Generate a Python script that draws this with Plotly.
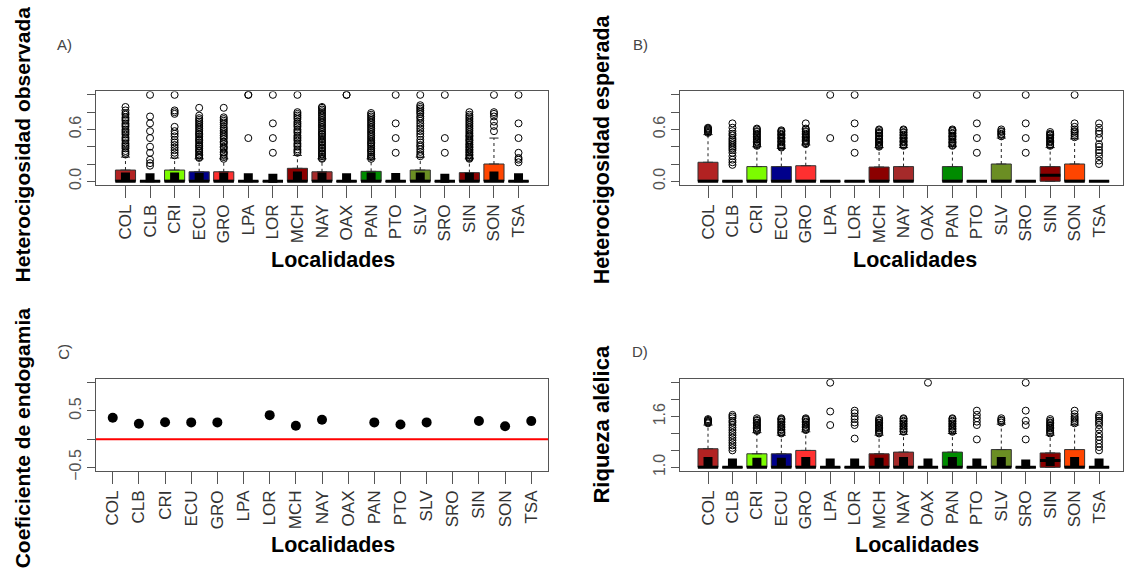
import plotly.graph_objects as go

W, H = 1128, 579

categories = ["COL", "CLB", "CRI", "ECU", "GRO", "LPA", "LOR", "MCH", "NAY",
              "OAX", "PAN", "PTO", "SLV", "SRO", "SIN", "SON", "TSA"]
box_colors = ["#B22222", "#FFFFFF", "#7CFC00", "#00008B", "#FF3030", "#FFFFFF",
              "#FFFFFF", "#8B0000", "#A52A2A", "#FFFFFF", "#008B00", "#FFFFFF",
              "#6B8E23", "#FFFFFF", "#8B0000", "#FF4500", "#FFFFFF"]

# ---------------- A) Heterocigosidad observada ----------------
ho_q1 = [0, 0, 0, 0, 0, 0, 0, 0, 0, 0, 0, 0, 0, 0, 0, 0, 0]
ho_med = [0, 0, 0, 0, 0, 0, 0, 0, 0, 0, 0, 0, 0, 0, 0, 0, 0]
ho_q3 = [0.13, 0, 0.13, 0.11, 0.11, 0, 0, 0.15, 0.11, 0, 0.115, 0, 0.13, 0, 0.10, 0.20, 0]
ho_whisk = [0.28, 0, 0.27, 0.26, 0.26, 0, 0, 0.30, 0.26, 0, 0.26, 0, 0.28, 0, 0.26, 0.50, 0]
ho_mean = [0.05, 0.04, 0.05, 0.045, 0.05, 0.04, 0.035, 0.06, 0.05, 0.04, 0.05,
           0.045, 0.05, 0.035, 0.045, 0.06, 0.04]
ho_out = {
    "COL": [0.31, 0.33, 0.35, 0.38, 0.40, 0.42, 0.44, 0.47, 0.49, 0.51, 0.54, 0.56, 0.58,
            0.60, 0.63, 0.65, 0.67, 0.70, 0.72, 0.74, 0.77, 0.79, 0.82, 0.86],
    "CLB": [0.18, 0.21, 0.25, 0.33, 0.40, 0.50, 0.58, 0.67, 0.75, 1.0],
    "CRI": [0.30, 0.33, 0.36, 0.39, 0.42, 0.45, 0.48, 0.52, 0.55, 0.58, 0.63, 0.78, 0.80, 0.82, 1.0],
    "ECU": [0.27, 0.28, 0.30, 0.31, 0.33, 0.35, 0.36, 0.38, 0.40, 0.41, 0.43, 0.45, 0.47,
            0.48, 0.50, 0.52, 0.54, 0.55, 0.57, 0.59, 0.61, 0.63, 0.65, 0.67, 0.69, 0.71,
            0.73, 0.76, 0.85],
    "GRO": [0.26, 0.28, 0.31, 0.33, 0.34, 0.37, 0.39, 0.40, 0.43, 0.45, 0.46, 0.49, 0.51,
            0.53, 0.55, 0.57, 0.59, 0.61, 0.63, 0.66, 0.68, 0.70, 0.72, 0.74, 0.85],
    "LPA": [0.50, 1.0, 1.0],
    "LOR": [0.33, 0.50, 0.67, 1.0],
    "MCH": [0.33, 0.35, 0.37, 0.40, 0.42, 0.44, 0.47, 0.49, 0.51, 0.53, 0.56, 0.58, 0.60,
            0.63, 0.65, 0.67, 0.69, 0.72, 0.74, 0.76, 0.78, 0.80, 1.0],
    "NAY": [0.26, 0.27, 0.29, 0.31, 0.32, 0.34, 0.36, 0.38, 0.39, 0.41, 0.43, 0.45, 0.46,
            0.48, 0.50, 0.52, 0.54, 0.55, 0.57, 0.59, 0.61, 0.63, 0.65, 0.67, 0.69, 0.71,
            0.73, 0.75, 0.77, 0.79, 0.81, 0.83, 0.85, 0.86],
    "OAX": [1.0, 1.0],
    "PAN": [0.26, 0.28, 0.29, 0.31, 0.33, 0.35, 0.36, 0.38, 0.40, 0.42, 0.44, 0.45, 0.47,
            0.49, 0.51, 0.53, 0.55, 0.57, 0.59, 0.61, 0.63, 0.65, 0.67, 0.69, 0.71, 0.73,
            0.75, 0.77, 0.79],
    "PTO": [0.33, 0.50, 0.67, 1.0],
    "SLV": [0.29, 0.31, 0.34, 0.37, 0.40, 0.42, 0.45, 0.48, 0.52, 0.55, 0.58, 0.61, 0.64,
            0.67, 0.70, 0.73, 0.75, 0.78, 0.80, 0.82, 0.84, 0.86, 0.88, 1.0],
    "SRO": [0.33, 0.50, 1.0],
    "SIN": [0.26, 0.27, 0.28, 0.30, 0.31, 0.33, 0.34, 0.36, 0.37, 0.39, 0.40, 0.42, 0.43,
            0.45, 0.47, 0.48, 0.50, 0.52, 0.53, 0.55, 0.57, 0.59, 0.61, 0.63, 0.65, 0.67,
            0.69, 0.71, 0.73, 0.75, 0.77, 0.80],
    "SON": [0.58, 0.64, 0.69, 0.75, 0.78, 0.80, 1.0],
    "TSA": [0.22, 0.25, 0.27, 0.33, 0.50, 0.67, 1.0],
}

# ---------------- B) Heterocigosidad esperada ----------------
he_q1 = [0, 0, 0, 0, 0, 0, 0, 0, 0, None, 0, 0, 0, 0, 0, 0, 0]
he_med = [0, 0, 0, 0, 0, 0, 0, 0, 0, None, 0, 0, 0, 0, 0.07, 0, 0]
he_q3 = [0.22, 0, 0.17, 0.17, 0.18, 0, 0, 0.165, 0.17, None, 0.17, 0, 0.20, 0, 0.17, 0.20, 0]
he_whisk = [0.54, 0, 0.40, 0.38, 0.42, 0, 0, 0.39, 0.39, None, 0.40, 0, 0.50, 0, 0.39, 0.49, 0]
he_out = {
    "COL": [0.56, 0.57, 0.58, 0.59, 0.60, 0.61, 0.62],
    "CLB": [0.19, 0.22, 0.25, 0.29, 0.33, 0.36, 0.38, 0.40, 0.42, 0.44, 0.46, 0.48, 0.50,
            0.53, 0.55, 0.58, 0.62, 0.67],
    "CRI": [0.41, 0.42, 0.43, 0.45, 0.46, 0.48, 0.49, 0.51, 0.52, 0.54, 0.55, 0.57, 0.58, 0.60, 0.61],
    "ECU": [0.39, 0.40, 0.41, 0.42, 0.43, 0.45, 0.46, 0.47, 0.49, 0.50, 0.51, 0.53, 0.54,
            0.55, 0.57, 0.58, 0.59],
    "GRO": [0.43, 0.44, 0.46, 0.47, 0.48, 0.50, 0.51, 0.52, 0.54, 0.55, 0.57, 0.58, 0.60, 0.61, 0.67],
    "LPA": [0.50, 1.0],
    "LOR": [0.33, 0.50, 0.67, 1.0],
    "MCH": [0.40, 0.41, 0.42, 0.44, 0.45, 0.46, 0.48, 0.49, 0.50, 0.52, 0.53, 0.55, 0.56,
            0.57, 0.59, 0.60],
    "NAY": [0.41, 0.42, 0.43, 0.45, 0.46, 0.47, 0.49, 0.50, 0.51, 0.53, 0.54, 0.56, 0.57, 0.59, 0.60],
    "OAX": [],
    "PAN": [0.41, 0.42, 0.44, 0.45, 0.46, 0.48, 0.49, 0.51, 0.52, 0.53, 0.55, 0.56, 0.58, 0.59, 0.60],
    "PTO": [0.33, 0.50, 0.67, 1.0],
    "SLV": [0.52, 0.54, 0.55, 0.57, 0.58, 0.60],
    "SRO": [0.33, 0.50, 0.67, 1.0],
    "SIN": [0.41, 0.42, 0.43, 0.45, 0.46, 0.47, 0.49, 0.50, 0.51, 0.53, 0.54, 0.55, 0.57],
    "SON": [0.51, 0.53, 0.55, 0.57, 0.58, 0.60, 0.63, 0.67, 1.0],
    "TSA": [0.20, 0.24, 0.29, 0.33, 0.36, 0.40, 0.43, 0.50, 0.55, 0.58, 0.62, 0.67],
}

# ---------------- C) Coeficiente de endogamia ----------------
fis_val = [0.378, 0.273, 0.30, 0.297, 0.297, None, 0.425, 0.238, 0.343, None,
           0.297, 0.26, 0.297, None, 0.32, 0.227, 0.32]
fis_err = [0.02, 0.05, 0.03, 0.02, 0.02, None, 0.05, 0.025, 0.025, None,
           0.02, 0.05, 0.025, None, 0.02, 0.025, 0.06]

# ---------------- D) Riqueza alélica ----------------
ar_q1 = [1.0, 1.0, 1.0, 1.0, 1.0, 1.0, 1.0, 1.0, 1.0, 1.0, 1.0, 1.0, 1.0, 1.0, 1.0, 1.0, 1.0]
ar_med = [1.0, 1.0, 1.0, 1.0, 1.0, 1.0, 1.0, 1.0, 1.0, 1.0, 1.0, 1.0, 1.0, 1.0, 1.08, 1.0, 1.0]
ar_q3 = [1.22, 1.0, 1.16, 1.16, 1.20, 1.0, 1.0, 1.16, 1.18, 1.0, 1.18, 1.0, 1.21, 1.0, 1.17, 1.21, 1.0]
ar_whisk = [1.50, 1.0, 1.41, 1.38, 1.42, 1.0, 1.0, 1.38, 1.39, 1.0, 1.40, 1.0, 1.51, 1.0, 1.38, 1.50, 1.0]
ar_mean = [1.07, 1.05, 1.06, 1.06, 1.07, 1.05, 1.05, 1.06, 1.07, 1.05, 1.07, 1.05,
           1.07, 1.04, 1.07, 1.07, 1.05]
ar_out = {
    "COL": [1.52, 1.53, 1.54, 1.55, 1.56, 1.57],
    "CLB": [1.20, 1.23, 1.26, 1.29, 1.32, 1.35, 1.38, 1.41, 1.44, 1.47, 1.50, 1.53, 1.55, 1.58, 1.60, 1.62],
    "CRI": [1.43, 1.44, 1.46, 1.47, 1.49, 1.50, 1.52, 1.53, 1.55, 1.56, 1.58],
    "ECU": [1.40, 1.41, 1.42, 1.44, 1.45, 1.47, 1.48, 1.50, 1.51, 1.53, 1.54, 1.56, 1.57, 1.58],
    "GRO": [1.44, 1.45, 1.47, 1.48, 1.50, 1.51, 1.53, 1.54, 1.56, 1.57, 1.58],
    "LPA": [1.50, 1.66, 2.0],
    "LOR": [1.34, 1.50, 1.53, 1.57, 1.60, 1.64, 1.67],
    "MCH": [1.40, 1.41, 1.43, 1.44, 1.46, 1.47, 1.49, 1.50, 1.52, 1.53, 1.55, 1.56, 1.58],
    "NAY": [1.42, 1.43, 1.45, 1.46, 1.48, 1.49, 1.51, 1.52, 1.54, 1.55, 1.57, 1.58],
    "OAX": [2.0],
    "PAN": [1.42, 1.43, 1.45, 1.46, 1.48, 1.49, 1.51, 1.52, 1.54, 1.55, 1.57, 1.58],
    "PTO": [1.33, 1.50, 1.54, 1.58, 1.62, 1.67],
    "SLV": [1.53, 1.55, 1.56, 1.58],
    "SRO": [1.33, 1.50, 1.55, 1.67, 2.0],
    "SIN": [1.40, 1.41, 1.43, 1.44, 1.46, 1.47, 1.49, 1.50, 1.52, 1.53, 1.55, 1.57],
    "SON": [1.52, 1.54, 1.56, 1.58, 1.60, 1.63, 1.67],
    "TSA": [1.20, 1.24, 1.28, 1.32, 1.36, 1.40, 1.45, 1.50, 1.53, 1.55, 1.58, 1.60, 1.62],
}

FONT = "Liberation Sans, Arial, sans-serif"
pos = list(range(1, len(categories) + 1))
fig = go.Figure()

# plotly's "line-ew" symbol is 1.4 x size wide
MED_SIZE = 14.5
CAP_SIZE = 6.5


def add_boxpanel(xa, ya, q1, med, q3, whisk, outl, means=None):
    for i, c in enumerate(categories):
        if q1[i] is None:
            continue
        fig.add_trace(go.Box(
            x=[pos[i]], q1=[q1[i]], median=[med[i]], q3=[q3[i]],
            lowerfence=[q1[i]], upperfence=[q3[i]],
            fillcolor=box_colors[i], line=dict(color="#333333", width=1),
            width=0.82, boxpoints=False, showlegend=False, hoverinfo="skip",
            xaxis=xa, yaxis=ya))
    # dashed whiskers
    wx, wy, cx, cy = [], [], [], []
    for i in range(len(categories)):
        if q3[i] is None or whisk[i] is None or whisk[i] <= q3[i]:
            continue
        wx += [pos[i], pos[i], None]
        wy += [q3[i], whisk[i], None]
        cx.append(pos[i])
        cy.append(whisk[i])
    fig.add_trace(go.Scatter(x=wx, y=wy, mode="lines",
                             line=dict(color="#222", width=1, dash="3px,3px"),
                             showlegend=False, hoverinfo="skip", xaxis=xa, yaxis=ya))
    fig.add_trace(go.Scatter(x=cx, y=cy, mode="markers",
                             marker=dict(symbol="line-ew", size=CAP_SIZE, color="#222",
                                         line=dict(color="#222", width=1)),
                             showlegend=False, hoverinfo="skip", xaxis=xa, yaxis=ya))
    # medians (thick black line)
    mx = [pos[i] for i in range(len(categories)) if med[i] is not None]
    my = [med[i] for i in range(len(categories)) if med[i] is not None]
    fig.add_trace(go.Scatter(x=mx, y=my, mode="markers",
                             marker=dict(symbol="line-ew", size=MED_SIZE, color="black",
                                         line=dict(color="black", width=3)),
                             showlegend=False, hoverinfo="skip", xaxis=xa, yaxis=ya))
    # means (black squares)
    if means is not None:
        fig.add_trace(go.Scatter(x=pos, y=means, mode="markers",
                                 marker=dict(symbol="square", size=9, color="black"),
                                 showlegend=False, hoverinfo="skip", xaxis=xa, yaxis=ya))
    # outliers
    ox, oy = [], []
    for i, c in enumerate(categories):
        for v in outl[c]:
            ox.append(pos[i])
            oy.append(v)
    fig.add_trace(go.Scatter(x=ox, y=oy, mode="markers",
                             marker=dict(symbol="circle-open", size=7, color="black",
                                         line=dict(color="black", width=1)),
                             showlegend=False, hoverinfo="skip", xaxis=xa, yaxis=ya))


add_boxpanel("x", "y", ho_q1, ho_med, ho_q3, ho_whisk, ho_out, ho_mean)
add_boxpanel("x2", "y2", he_q1, he_med, he_q3, he_whisk, he_out, None)
add_boxpanel("x4", "y4", ar_q1, ar_med, ar_q3, ar_whisk, ar_out, ar_mean)

# Panel C points with error bars
fig.add_trace(go.Scatter(x=pos, y=fis_val, mode="markers",
                         marker=dict(symbol="circle", size=10, color="black"),
                         error_y=dict(type="data", array=fis_err, visible=True,
                                      color="black", thickness=1.5, width=3),
                         showlegend=False, hoverinfo="skip", xaxis="x3", yaxis="y3"))


def px_x(p):
    return p / W


def px_y(p):
    return 1 - p / H


def xax(domain, rng):
    return dict(domain=domain, range=rng, tickmode="array", tickvals=pos,
                ticktext=categories, tickangle=-90, ticks="outside", ticklen=12,
                tickcolor="#555", tickwidth=1,
                tickfont=dict(family=FONT, size=17, color="#333"),
                showline=True, mirror=True, linecolor="#555", linewidth=1,
                showgrid=False, zeroline=False, fixedrange=True)


def yax(domain, rng, tv, tt, anchor):
    return dict(domain=domain, range=rng, tickmode="array", tickvals=tv, ticktext=tt,
                tickangle=-90, ticks="outside", ticklen=8, tickcolor="#555",
                tickfont=dict(family=FONT, size=16, color="#555"),
                showline=True, mirror=True, linecolor="#555", linewidth=1,
                showgrid=False, zeroline=False, anchor=anchor, fixedrange=True)


dom_xL = [px_x(96), px_x(548)]
dom_xR = [px_x(680), px_x(1123)]
dom_yT = [px_y(188), px_y(93)]
dom_yB = [px_y(479), px_y(386)]

ho_ticks = [0, 0.2, 0.4, 0.6, 0.8, 1.0]
ho_labels = ["0.0", "", "", "0.6", "", ""]
fis_ticks = [-0.5, 0, 0.5, 1.0]
fis_labels = ["\u22120.5", "", "0.5", ""]
ar_ticks = [1.0, 1.2, 1.4, 1.6, 1.8, 2.0]
ar_labels = ["1.0", "", "", "1.6", "", ""]

annotations = []


def ann(text, x, y, size, bold=False, angle=0, color="black"):
    annotations.append(dict(
        text=("<b>%s</b>" % text) if bold else text, x=px_x(x), y=px_y(y),
        xref="paper", yref="paper", showarrow=False, textangle=angle,
        xanchor="center", yanchor="middle",
        font=dict(family=FONT, size=size, color=color)))


ann("Heterocigosidad observada", 22, 147, 21, True, -90)
ann("Coeficiente de endogamia", 22, 446, 21, True, -90)
ann("Heterocigosidad esperada", 602, 152, 21.5, True, -90)
ann("Riqueza alélica", 602, 432, 22, True, -90)
for xc, yc in [(333, 265), (915, 265), (333, 555), (917, 555)]:
    ann("Localidades", xc, yc, 21.5, True)
ann("A)", 64, 45, 15, color="#444")
ann("B)", 640, 45, 15, color="#444")
ann("C)", 64, 358, 15, angle=-90, color="#444")
ann("D)", 640, 358, 15, color="#444")

fig.update_layout(
    width=W, height=H, margin=dict(l=0, r=0, t=0, b=0),
    paper_bgcolor="white", plot_bgcolor="white", showlegend=False,
    boxmode="overlay",
    xaxis=xax(dom_xL, [-0.2, 18.2]) | dict(anchor="y"),
    yaxis=yax(dom_yT, [-0.04, 1.04], ho_ticks, ho_labels, "x"),
    xaxis2=xax(dom_xR, [-0.146, 17.98]) | dict(anchor="y2"),
    yaxis2=yax(dom_yT, [-0.04, 1.04], ho_ticks, ho_labels, "x2"),
    xaxis3=xax(dom_xL, [0.36, 17.64]) | dict(anchor="y3"),
    yaxis3=yax(dom_yB, [-0.56, 1.06], fis_ticks, fis_labels, "x3"),
    xaxis4=xax(dom_xR, [-0.146, 17.98]) | dict(anchor="y4"),
    yaxis4=yax(dom_yB, [0.96, 2.04], ar_ticks, ar_labels, "x4"),
    annotations=annotations,
    shapes=[dict(type="line", xref="x3 domain", x0=0, x1=1, yref="y3", y0=0, y1=0,
                 line=dict(color="red", width=2))],
)

fig.write_html("out.html")
